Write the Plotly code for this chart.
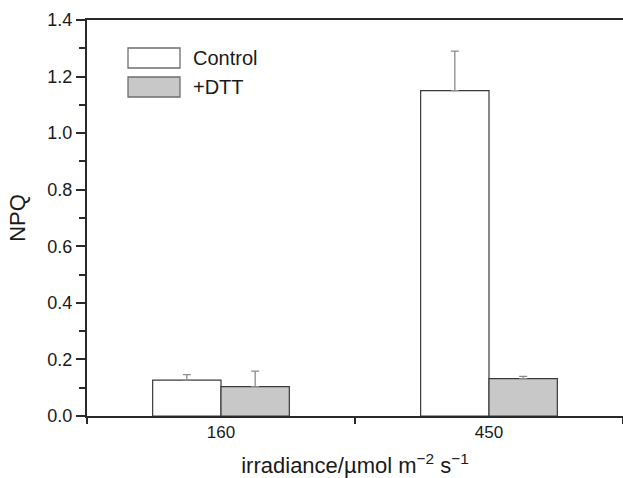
import plotly.graph_objects as go

categories = ["160", "450"]
control = [0.127, 1.15]
control_err = [0.019, 0.14]
dtt = [0.104, 0.132]
dtt_err = [0.055, 0.008]
series_names = ["Control", "+DTT"]
y_ticks = [0.0, 0.2, 0.4, 0.6, 0.8, 1.0, 1.2, 1.4]

FONT = "Arial, Liberation Sans, sans-serif"
W, H = 623, 478
L, R, T, B = 87, 0, 20, 62
PW, PH = W - L - R, H - T - B

fig = go.Figure()
fig.add_trace(go.Bar(
    x=categories, y=control, name=series_names[0],
    marker=dict(color="white", line=dict(color="#3a3a3a", width=1.2)),
    error_y=dict(type="data", array=control_err, arrayminus=[0, 0], symmetric=False,
                 color="#8c8c8c", thickness=1.3, width=4),
    showlegend=False))
fig.add_trace(go.Bar(
    x=categories, y=dtt, name=series_names[1],
    marker=dict(color="#c8c8c8", line=dict(color="#3a3a3a", width=1.2)),
    error_y=dict(type="data", array=dtt_err, arrayminus=[0, 0], symmetric=False,
                 color="#8c8c8c", thickness=1.3, width=4),
    showlegend=False))

# custom legend (wide swatches like the reference), pixel positions -> paper coords
def px_x(x):
    return (x - L) / PW

def px_y(y):
    return (H - B - y) / PH

legend_items = [("white", series_names[0]), ("#c8c8c8", series_names[1])]
for i, (col, name) in enumerate(legend_items):
    top = 48 + i * 29
    fig.add_shape(type="rect", xref="paper", yref="paper",
                  x0=px_x(128), x1=px_x(180), y0=px_y(top + 20), y1=px_y(top),
                  fillcolor=col, line=dict(color="#6e6e6e", width=1.3))
    fig.add_annotation(xref="paper", yref="paper",
                       x=px_x(191), y=px_y(top + 10),
                       text=name, showarrow=False, xanchor="left", yanchor="middle",
                       font=dict(family=FONT, size=20, color="#1a1a1a"))

fig.update_layout(
    width=W, height=H,
    margin=dict(l=L, r=R, t=T, b=B, pad=0),
    plot_bgcolor="white", paper_bgcolor="white",
    barmode="group", bargap=0.49, bargroupgap=0,
    font=dict(family=FONT, color="#1a1a1a", size=16),
    xaxis=dict(
        type="category", range=[-0.5, 1.5],
        showline=True, linecolor="#2a2a2a", linewidth=2, mirror=True,
        ticks="outside", tickson="boundaries", ticklen=6, tickwidth=1.5, tickcolor="#2a2a2a",
        showgrid=False, tickfont=dict(size=17),
        title=dict(text="irradiance/\u00b5mol m<sup>\u22122</sup> s<sup>\u22121</sup>",
                   font=dict(size=22), standoff=16),
    ),
    yaxis=dict(
        range=[0, 1.4], tickvals=y_ticks, tickformat=".1f",
        showline=True, linecolor="#2a2a2a", linewidth=2,
        ticks="outside", ticklen=9, tickwidth=1.5, tickcolor="#2a2a2a",
        minor=dict(dtick=0.1, ticks="outside", ticklen=6, tickwidth=1.5, tickcolor="#2a2a2a"),
        showgrid=False, zeroline=False, tickfont=dict(size=18),
        title=dict(text="NPQ", font=dict(size=22), standoff=16),
    ),
)
fig.write_html("out.html", config={"displayModeBar": False},
               post_script="document.body.style.margin='0';document.body.style.overflow='hidden';")
